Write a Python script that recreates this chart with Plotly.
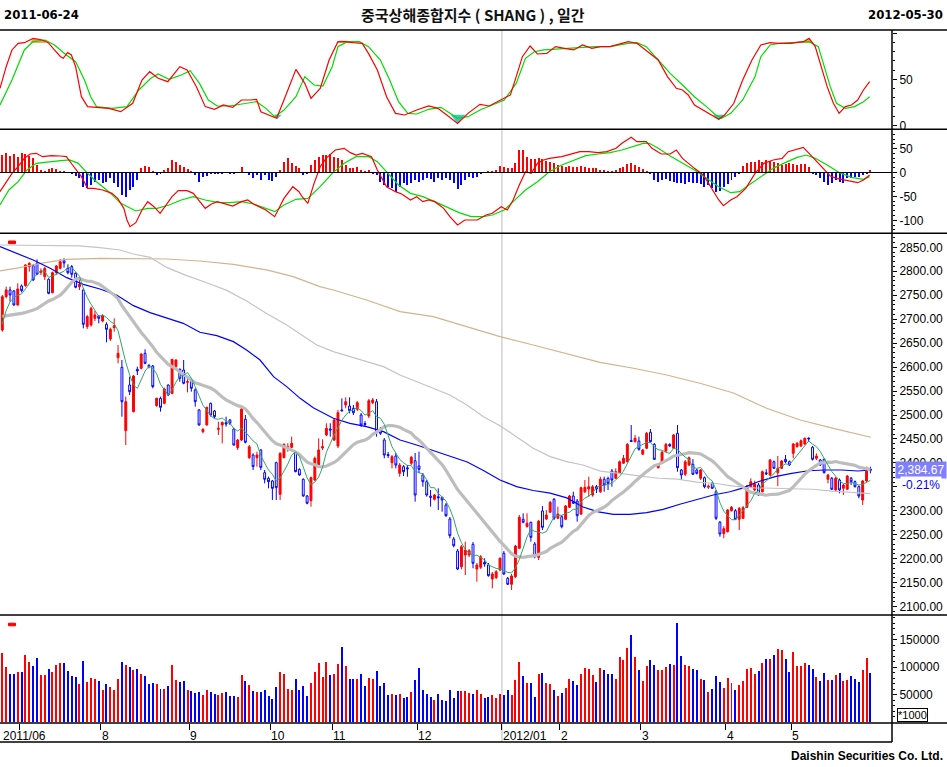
import plotly.graph_objects as go
import pandas as pd

# ---------------- data ----------------
month_days = [5, 21, 23, 21, 16, 22, 22, 15, 21, 22, 17, 21]
month_labels = ["2011/06", "8", "9", "10", "11", "12", "2012/01", "2", "3", "4", "5"]

opens = [
 2677.4, 2747.0, 2760.9, 2758.8, 2729.6, 2769.3, 2769.9, 2809.6, 2811.7, 2816.6,
 2797.8, 2788.7, 2783.2, 2755.3, 2797.1, 2806.1, 2822.1, 2806.1, 2809.6, 2795.7,
 2767.9, 2760.9, 2684.4, 2687.9, 2701.8, 2706.6, 2696.2, 2689.3, 2658.6, 2682.3,
 2619.7, 2599.5, 2467.3, 2562.6, 2507.0, 2595.3, 2597.4, 2628.7, 2603.7, 2602.3,
 2519.5, 2534.8, 2524.4, 2562.6, 2545.2, 2600.9, 2595.3, 2593.9, 2568.2, 2569.6,
 2552.2, 2510.5, 2465.2, 2479.2, 2524.4, 2508.4, 2470.1, 2479.2, 2484.0, 2489.6,
 2470.8, 2431.8, 2447.8, 2491.0, 2411.0, 2416.5, 2411.0, 2427.0, 2379.7, 2367.8,
 2362.3, 2400.5, 2334.5, 2411.0, 2430.5, 2432.5, 2422.1, 2386.6, 2365.8, 2330.9,
 2321.2, 2364.4, 2395.7, 2431.0, 2458.3, 2470.8, 2447.8, 2435.3, 2510.4, 2520.9,
 2518.8, 2514.0, 2511.9, 2500.0, 2482.2, 2497.9, 2525.7, 2527.7, 2470.2, 2447.8,
 2417.6, 2400.5, 2414.4, 2378.3, 2392.1, 2389.8, 2399.2, 2404.6, 2393.6, 2374.8,
 2360.8, 2330.5, 2324.1, 2329.5, 2328.2, 2312.2, 2283.0, 2241.2, 2216.1, 2183.4,
 2207.8, 2207.8, 2230.1, 2178.6, 2182.2, 2192.6, 2187.0, 2157.7, 2160.5, 2176.5,
 2211.3, 2159.2, 2146.7, 2162.6, 2221.8, 2282.3, 2266.9, 2276.2, 2230.8, 2203.0,
 2299.7, 2283.0, 2297.0, 2324.1, 2284.4, 2287.7, 2282.3, 2307.4, 2330.9, 2320.5,
 2293.4, 2339.9, 2345.6, 2333.0, 2350.3, 2339.9, 2365.8, 2367.9, 2383.1, 2367.9,
 2378.3, 2399.2, 2402.5, 2446.8, 2444.3, 2445.7, 2418.0, 2430.5, 2463.9, 2438.8,
 2390.0, 2399.2, 2424.9, 2438.8, 2430.5, 2461.8, 2385.2, 2376.2, 2395.6, 2397.1,
 2385.2, 2367.9, 2369.1, 2349.3, 2357.4, 2339.9, 2276.2, 2252.5, 2256.5, 2300.3,
 2300.3, 2282.3, 2284.4, 2307.4, 2350.3, 2343.5, 2353.9, 2339.9, 2379.4, 2374.8,
 2402.5, 2379.6, 2388.7, 2407.5, 2402.5, 2420.0, 2433.8, 2435.3, 2439.5, 2452.0,
 2432.6, 2409.6, 2406.1, 2407.5, 2365.8, 2367.9, 2343.5, 2364.3, 2347.0, 2345.0,
 2367.9, 2360.8, 2350.3, 2322.6, 2362.3, 2387.3]
highs = [
 2750.5, 2767.9, 2767.9, 2760.9, 2774.8, 2772.7, 2814.5, 2818.7, 2814.5, 2824.9,
 2806.1, 2809.6, 2785.3, 2799.2, 2813.1, 2825.6, 2827.0, 2814.5, 2813.1, 2797.8,
 2781.8, 2764.4, 2708.7, 2726.1, 2717.1, 2708.7, 2710.1, 2693.4, 2682.3, 2701.8,
 2646.1, 2614.8, 2538.3, 2580.0, 2583.5, 2600.9, 2628.7, 2637.1, 2605.8, 2604.4,
 2536.2, 2538.3, 2557.1, 2564.0, 2616.9, 2616.2, 2597.4, 2614.8, 2576.5, 2573.1,
 2555.7, 2512.5, 2472.2, 2517.4, 2525.8, 2510.5, 2486.1, 2486.1, 2496.5, 2491.7,
 2473.6, 2449.9, 2517.4, 2500.0, 2437.4, 2420.0, 2423.5, 2428.4, 2385.2, 2371.3,
 2364.4, 2402.6, 2422.1, 2440.9, 2440.9, 2454.8, 2424.9, 2388.7, 2367.8, 2333.1,
 2371.3, 2413.1, 2451.3, 2449.3, 2482.7, 2482.7, 2493.7, 2510.4, 2534.8, 2536.9,
 2536.9, 2520.9, 2529.2, 2504.2, 2487.5, 2533.4, 2535.5, 2533.4, 2475.0, 2452.0,
 2422.8, 2416.5, 2420.7, 2399.8, 2395.6, 2395.6, 2414.4, 2420.7, 2423.5, 2379.0,
 2364.3, 2343.5, 2335.1, 2347.0, 2329.5, 2316.4, 2287.1, 2245.4, 2220.3, 2228.7,
 2235.6, 2220.3, 2234.9, 2191.1, 2207.8, 2200.9, 2191.1, 2172.3, 2176.5, 2203.0,
 2216.1, 2161.9, 2168.2, 2228.7, 2291.3, 2294.8, 2294.8, 2277.3, 2234.9, 2281.0,
 2310.1, 2301.7, 2320.5, 2326.8, 2308.7, 2291.3, 2312.2, 2333.0, 2339.9, 2324.7,
 2350.3, 2364.3, 2371.3, 2353.9, 2353.9, 2371.3, 2371.3, 2371.3, 2387.3, 2388.7,
 2405.0, 2416.5, 2441.5, 2479.1, 2458.3, 2454.7, 2429.1, 2464.5, 2470.8, 2441.5,
 2399.8, 2424.9, 2441.5, 2440.9, 2460.4, 2479.1, 2387.3, 2406.1, 2413.4, 2408.2,
 2387.3, 2387.3, 2371.6, 2354.9, 2360.2, 2343.5, 2278.8, 2268.0, 2303.8, 2310.1,
 2303.8, 2308.0, 2310.1, 2353.9, 2367.9, 2362.9, 2358.1, 2384.2, 2386.7, 2408.2,
 2405.0, 2414.4, 2406.1, 2416.5, 2405.0, 2441.5, 2443.6, 2448.9, 2453.1, 2453.1,
 2435.3, 2420.1, 2408.2, 2409.2, 2376.9, 2370.6, 2370.6, 2367.5, 2356.0, 2374.8,
 2370.6, 2363.3, 2352.9, 2364.3, 2392.1, 2392.1]
lows = [
 2673.9, 2743.5, 2736.6, 2728.2, 2728.2, 2756.0, 2767.9, 2799.2, 2779.7, 2792.2,
 2792.2, 2781.8, 2751.9, 2753.9, 2793.6, 2804.0, 2807.5, 2793.6, 2786.6, 2764.4,
 2760.9, 2680.9, 2679.5, 2684.4, 2696.2, 2691.3, 2693.4, 2651.7, 2654.5, 2673.9,
 2607.9, 2496.5, 2437.4, 2541.8, 2505.6, 2583.5, 2595.3, 2605.8, 2597.4, 2555.7,
 2517.4, 2507.0, 2522.3, 2539.7, 2543.1, 2593.9, 2569.6, 2564.0, 2547.3, 2548.7,
 2517.4, 2477.8, 2461.8, 2477.8, 2496.5, 2493.1, 2458.3, 2440.9, 2475.7, 2479.2,
 2436.0, 2427.0, 2445.8, 2440.9, 2408.2, 2385.2, 2392.2, 2385.2, 2357.4, 2347.0,
 2322.6, 2322.6, 2322.6, 2409.6, 2423.5, 2430.5, 2380.4, 2373.4, 2329.6, 2313.6,
 2308.7, 2362.3, 2394.3, 2427.0, 2456.0, 2454.7, 2445.7, 2431.1, 2506.9, 2514.0,
 2503.5, 2500.0, 2508.3, 2475.0, 2475.0, 2493.7, 2523.0, 2454.7, 2458.3, 2409.6,
 2410.3, 2388.7, 2388.7, 2371.3, 2372.7, 2371.3, 2395.6, 2319.1, 2378.3, 2350.3,
 2329.5, 2308.7, 2321.6, 2301.7, 2298.2, 2287.1, 2242.7, 2223.9, 2176.5, 2178.0,
 2166.1, 2203.6, 2180.1, 2152.1, 2178.6, 2183.4, 2162.6, 2138.3, 2157.7, 2174.4,
 2166.1, 2145.2, 2134.8, 2159.8, 2220.3, 2274.0, 2265.3, 2235.6, 2200.9, 2197.4,
 2259.9, 2280.9, 2295.5, 2280.9, 2283.0, 2263.5, 2280.9, 2306.0, 2314.3, 2277.3,
 2291.3, 2337.2, 2329.5, 2329.5, 2337.2, 2337.2, 2339.9, 2343.5, 2350.3, 2366.4,
 2376.9, 2397.7, 2400.9, 2444.3, 2442.6, 2425.5, 2416.5, 2429.1, 2442.6, 2406.1,
 2388.3, 2397.7, 2422.8, 2433.8, 2429.1, 2381.7, 2364.3, 2372.7, 2393.6, 2374.8,
 2375.8, 2364.3, 2347.0, 2345.6, 2345.6, 2280.9, 2246.0, 2242.7, 2254.8, 2298.6,
 2280.9, 2260.0, 2283.0, 2306.0, 2348.7, 2341.4, 2330.9, 2338.2, 2374.8, 2372.7,
 2387.3, 2351.8, 2387.3, 2399.2, 2393.6, 2409.6, 2432.1, 2433.2, 2437.4, 2444.3,
 2405.0, 2406.1, 2393.6, 2377.9, 2357.4, 2343.5, 2341.4, 2336.6, 2333.0, 2343.5,
 2353.9, 2348.7, 2326.1, 2312.2, 2360.2, 2378.3]
closes = [
 2747.0, 2760.9, 2750.5, 2729.6, 2763.0, 2759.5, 2813.1, 2816.6, 2781.8, 2793.6,
 2800.6, 2806.1, 2753.9, 2797.1, 2811.0, 2820.0, 2817.3, 2797.1, 2793.6, 2766.5,
 2772.7, 2689.3, 2705.3, 2722.6, 2708.7, 2701.8, 2706.6, 2678.8, 2678.8, 2686.5,
 2628.7, 2527.8, 2527.8, 2548.7, 2581.4, 2591.9, 2627.3, 2607.9, 2600.9, 2559.2,
 2534.8, 2516.0, 2554.3, 2541.8, 2616.2, 2614.8, 2576.5, 2566.1, 2569.6, 2555.7,
 2527.8, 2479.2, 2470.1, 2516.0, 2500.0, 2496.5, 2472.2, 2484.7, 2481.2, 2482.6,
 2437.4, 2447.8, 2512.5, 2443.0, 2433.9, 2392.2, 2416.5, 2390.8, 2365.8, 2360.9,
 2347.0, 2348.4, 2420.0, 2438.8, 2433.9, 2440.9, 2381.8, 2374.8, 2330.9, 2315.7,
 2369.2, 2409.6, 2427.0, 2434.0, 2472.2, 2468.7, 2489.5, 2504.8, 2509.0, 2527.7,
 2509.0, 2504.8, 2525.7, 2479.1, 2480.2, 2529.8, 2531.3, 2463.1, 2461.8, 2416.5,
 2415.5, 2413.0, 2395.6, 2395.6, 2381.7, 2387.7, 2411.7, 2333.0, 2386.7, 2360.8,
 2333.0, 2328.4, 2333.0, 2327.4, 2322.6, 2289.9, 2248.1, 2227.2, 2178.6, 2225.1,
 2218.2, 2216.8, 2190.5, 2187.0, 2204.2, 2189.0, 2164.6, 2168.2, 2173.0, 2200.9,
 2168.2, 2146.7, 2164.0, 2226.6, 2286.5, 2276.2, 2274.0, 2244.7, 2204.2, 2278.4,
 2265.6, 2291.3, 2317.8, 2284.4, 2293.4, 2266.9, 2310.1, 2330.9, 2315.7, 2289.9,
 2348.2, 2349.0, 2350.3, 2350.3, 2345.6, 2365.8, 2353.9, 2357.4, 2364.3, 2381.7,
 2402.5, 2409.6, 2438.8, 2444.7, 2451.4, 2428.4, 2427.0, 2461.8, 2444.3, 2407.5,
 2397.1, 2422.2, 2438.8, 2435.3, 2458.3, 2390.0, 2374.8, 2402.5, 2410.9, 2376.2,
 2378.3, 2385.2, 2350.3, 2351.4, 2347.0, 2284.4, 2251.7, 2262.8, 2301.7, 2307.4,
 2282.3, 2305.3, 2306.5, 2351.8, 2360.8, 2356.0, 2333.0, 2381.7, 2377.3, 2406.1,
 2388.7, 2388.7, 2404.0, 2402.5, 2395.6, 2439.5, 2440.9, 2446.3, 2451.4, 2450.3,
 2407.5, 2414.4, 2395.6, 2379.6, 2374.8, 2345.0, 2367.9, 2343.5, 2353.9, 2372.7,
 2360.8, 2350.3, 2330.9, 2362.3, 2389.69, 2384.67]

volumes = [
 126400, 100300, 88200, 88200, 91200, 91200, 122700, 109400, 102100, 116700,
 86400, 86400, 97300, 91200, 104500, 107600, 107600, 93000, 83900, 82100,
 70000, 111200, 73000, 80300, 77900, 74800, 59100, 70000, 63900, 59100,
 79100, 109400, 104500, 100300, 95400, 97300, 88200, 83900, 70000, 71800,
 70000, 60900, 60900, 65800, 104500, 77300, 73000, 74800, 59100, 56700,
 53600, 54800, 50000, 59100, 54800, 51800, 50000, 53600, 54800, 47600,
 47600, 45800, 86400, 74800, 68200, 56700, 54800, 54800, 58500, 48200,
 42700, 63900, 91200, 88200, 60900, 59100, 79100, 59100, 65800, 48200,
 71800, 91200, 108200, 82100, 109400, 85100, 88200, 106400, 136700, 102100,
 79100, 79100, 79100, 88200, 65800, 80900, 79100, 93000, 65800, 71800,
 50000, 51800, 50000, 51800, 44500, 45800, 54800, 76700, 98500, 58500,
 51800, 45800, 39700, 51800, 40300, 38500, 58500, 43900, 56700, 56700,
 56700, 53000, 51800, 59100, 51800, 43900, 45800, 48800, 43900, 51800,
 48800, 58500, 49400, 76100, 109400, 83900, 71200, 71200, 45800, 87600,
 89400, 71200, 70000, 58500, 47600, 53000, 62100, 78500, 74800, 67600,
 88200, 98500, 96700, 86400, 73000, 98500, 94800, 87600, 87600, 78500,
 118500, 113000, 134800, 158500, 118500, 94800, 74800, 102100, 113000, 103900,
 94800, 94800, 100300, 105800, 103900, 180300, 120300, 103900, 102100, 96700,
 94800, 78500, 76700, 54800, 60300, 83900, 73000, 62100, 80300, 71200,
 58500, 67600, 74800, 96100, 98500, 87600, 93000, 107600, 114800, 114800,
 122100, 133000, 131200, 114800, 91200, 127600, 102100, 102100, 107600, 103900,
 96700, 82100, 74800, 89400, 76700, 76700, 85800, 89400, 74800, 76700,
 83900, 78500, 73000, 94800, 116700, 89400]

# moving-average start values (window not yet filled inside the visible range)
ma5_head = [2690, 2718, 2736, 2745]
ma20_head = [2706, 2707, 2708, 2709, 2710, 2712, 2714, 2716, 2719, 2722,
             2727, 2733, 2738, 2741, 2745, 2750, 2758, 2768, 2777]

# long moving averages: (bar index, value)
ma60_pts = [(-0.6, 2851.3), (8, 2823.5), (12.4, 2806.1), (16.7, 2786.6), (21, 2772.7),
            (25.3, 2763.0), (29.6, 2750.5), (34, 2728.2), (38.3, 2713.6), (42.6, 2701.8),
            (46.9, 2691.3), (51.2, 2672.6), (55.6, 2665.6), (59.9, 2653.1), (63.3, 2635.7),
            (66.8, 2614.8), (70.3, 2580.0), (73.7, 2559.2), (77.2, 2534.8), (80.6, 2515.0),
            (85.8, 2493.1), (90.1, 2482.6), (94.4, 2475.7), (98.8, 2465.2), (103.1, 2447.8),
            (107.4, 2437.4), (111.7, 2426.0), (116.0, 2414.0), (120.5, 2402.0), (124.7, 2384.0),
            (129.0, 2364.4), (133.3, 2350.5), (137.6, 2342.5), (142.0, 2337.0), (146.3, 2327.0),
            (150.5, 2308.0), (154.5, 2298.0), (158.4, 2292.8), (162.7, 2292.8), (167, 2296.1),
            (171.3, 2303.2), (175.6, 2313.7), (179.9, 2322.6), (184.3, 2333.0), (188.6, 2339.9),
            (191.6, 2347.0), (195.9, 2360.8), (200.3, 2371.3), (204.6, 2378.3), (208.9, 2383.7),
            (213.2, 2385.2), (217.5, 2385.2), (221.8, 2383.1), (225.1, 2385.2)]
ma120_pts = [(-0.6, 2854.8), (10, 2854.0), (20, 2853.0), (25.3, 2849.3), (30.5, 2844.4),
             (34, 2836.0), (38.3, 2829.1), (42.6, 2808.0), (47.8, 2790.8), (53, 2776.0),
             (58.2, 2760.0), (63.3, 2738.0), (68.5, 2712.0), (73.7, 2688.0), (78.9, 2660.0),
             (81.5, 2646.1), (85.8, 2632.2), (90.1, 2621.8), (94.4, 2611.4), (98.8, 2600.9),
             (103.1, 2583.5), (107.4, 2569.6), (111.7, 2555.7), (116.0, 2541.8), (120.4, 2520.9),
             (124.7, 2496.5), (129.0, 2477.8), (133.3, 2454.8), (137.6, 2430.5), (142.0, 2413.1),
             (146.3, 2402.6), (150.5, 2395.7), (155, 2383.0), (160, 2378.0), (165, 2373.0),
             (170, 2368.0), (175, 2366.0), (180, 2360.0), (185, 2357.0), (190, 2351.0),
             (195, 2348.0), (200, 2347.0), (205, 2347.0), (210, 2345.0), (215, 2341.0),
             (220, 2338.0), (225, 2336.0)]
ma240_pts = [(-0.6, 2800.6), (4.6, 2807.5), (9.8, 2816.6), (16.7, 2824.9), (25.3, 2827.0),
             (34, 2827.0), (42.6, 2825.6), (51.2, 2821.4), (59.9, 2814.5), (68.5, 2802.7),
             (75.4, 2788.7), (82.3, 2768.0), (85.8, 2760.9), (94.4, 2740.0), (103.1, 2715.7),
             (111.7, 2705.3), (120.4, 2684.4), (129.0, 2663.5), (137.6, 2646.1), (146.3, 2628.7),
             (154.9, 2610.0), (163.6, 2597.6), (172.2, 2583.5), (180.8, 2566.3), (189.5, 2546.0),
             (198.1, 2514.0), (206.8, 2489.6), (215.4, 2472.2), (224.0, 2454.7), (225.1, 2453.5)]

# stochastic %K (red) and %D (green): (bar index, value)
stoch_k = [(-0.6, 40.2), (1.0, 63.7), (2.5, 81.9), (4.1, 89.1), (5.7, 89.8), (8.0, 94.5), (10.4, 92.7),
           (11.9, 89.8), (13.5, 81.9), (15.1, 74.6), (15.8, 72.8), (16.9, 79.0), (17.9, 76.4), (19.0, 63.7),
           (20.5, 31.1), (22.1, 20.3), (24.4, 19.5), (27.6, 18.4), (30.7, 14.8), (33.8, 23.9), (36.2, 49.2),
           (38.2, 58.3), (40.4, 51.1), (42.9, 47.4), (46.0, 63.7), (47.9, 60.1), (50.3, 42.0), (52.6, 20.3),
           (55.0, 17.4), (57.3, 22.1), (59.7, 19.5), (62.0, 27.5), (64.4, 27.5), (65.9, 28.2), (67.0, 14.8),
           (69.1, 11.2), (71.1, 7.6), (73.0, 27.5), (76.1, 60.8), (78.4, 45.6), (80.0, 29.3), (82.4, 40.2),
           (84.7, 71.0), (87.0, 90.9), (88.6, 90.9), (91.0, 89.8), (93.3, 89.1), (94.9, 78.2), (97.2, 60.1),
           (99.6, 31.1), (101.9, 13.0), (104.3, 11.2), (107.4, 16.6), (110.5, 21.0), (112.9, 18.4),
           (115.2, 11.2), (118.0, 2.1), (120.7, 13.0), (123.8, 22.8), (126.2, 21.0), (129.3, 27.5),
           (131.7, 33.0), (133.2, 52.9), (134.8, 74.6), (136.8, 86.2), (138.7, 77.5), (141.1, 78.2),
           (143.4, 85.5), (145.7, 83.7), (148.1, 81.9), (150.4, 87.3), (152.8, 83.7), (155.1, 85.5),
           (157.5, 85.5), (160.6, 89.1), (162.2, 90.9), (164.5, 89.1), (167.7, 78.2), (170.0, 71.0),
           (172.4, 52.9), (174.7, 40.2), (176.3, 38.4), (177.8, 33.0), (179.4, 22.1), (181.7, 16.6),
           (184.1, 11.2), (185.7, 6.5), (187.2, 11.2), (189.6, 23.9), (191.9, 49.2), (194.3, 71.0),
           (196.6, 87.3), (199.0, 89.8), (201.3, 89.1), (204.4, 89.1), (207.6, 90.9), (209.1, 94.5),
           (210.7, 85.5), (212.3, 63.7), (213.8, 42.0), (215.4, 23.9), (216.9, 13.0), (218.5, 20.3),
           (220.1, 22.1), (221.7, 27.5), (223.2, 38.4), (224.8, 47.4)]
stoch_d = [(-0.6, 22.1), (2.5, 49.2), (5.7, 81.9), (8.0, 90.9), (11.1, 92.7), (13.5, 87.3), (16.6, 76.4),
           (19.0, 69.2), (21.3, 49.2), (22.9, 31.1), (24.4, 20.3), (28.4, 18.4), (32.3, 20.3), (35.4, 38.4),
           (38.5, 51.1), (40.4, 55.8), (43.2, 50.0), (46.4, 54.7), (48.7, 59.4), (51.1, 45.6), (53.4, 27.5),
           (55.7, 21.0), (58.9, 21.0), (62.0, 23.2), (65.9, 25.7), (68.3, 18.4), (70.6, 9.4), (73.0, 16.6),
           (76.1, 31.1), (78.4, 52.9), (80.8, 43.8), (83.1, 42.7), (85.5, 63.7), (87.0, 85.5), (89.4, 90.9),
           (92.5, 90.9), (94.9, 85.5), (98.0, 71.0), (100.4, 49.2), (102.7, 25.7), (105.1, 13.0),
           (107.4, 12.3), (110.5, 17.4), (113.7, 19.5), (116.8, 11.2), (118.0, 7.6), (120.7, 9.4),
           (123.8, 16.6), (127.0, 22.1), (130.1, 27.5), (133.2, 45.6), (135.6, 72.8), (137.9, 80.0),
           (140.3, 81.9), (146.5, 83.7), (153.6, 85.5), (157.5, 85.5), (162.2, 89.1), (164.5, 89.8),
           (166.9, 85.5), (170.0, 71.0), (173.1, 56.5), (176.3, 43.8), (179.4, 31.1), (182.5, 20.3),
           (184.9, 11.2), (186.4, 7.6), (188.8, 13.0), (191.9, 27.5), (195.1, 52.9), (196.6, 74.6),
           (199.0, 87.3), (201.3, 89.1), (206.0, 89.8), (209.1, 90.9), (211.5, 85.5), (213.1, 63.7),
           (214.6, 42.0), (216.2, 23.9), (218.5, 18.4), (220.9, 20.3), (223.2, 25.7), (224.8, 31.1)]
over_patches = [[(7.2, 89.5), (8.0, 94.5), (9.5, 93.8), (11.0, 91.5), (11.3, 89.5)],
                [(86.5, 89.5), (87.5, 92.0), (89.5, 92.0), (90.8, 89.5)],
                [(203.5, 89.5), (206.0, 90.5), (208.0, 91.5), (209.1, 94.5), (210.0, 91.0), (210.3, 89.5)]]
under_patches = [[(70.4, 11.5), (72.4, 11.5), (71.3, 6.5)],
                 [(116.2, 11.5), (120.0, 11.5), (118.0, 2.0)],
                 [(184.2, 11.5), (187.2, 11.5), (185.7, 5.5)]]

# MACD line (red), signal (green): (bar index, value); oscillator bars per bar
macd_line = [(-0.6, -40.1), (1.0, -19.2), (2.5, -1.7), (4.1, 12.2), (5.7, 29.6), (7.2, 38.7), (8.8, 40.1),
             (10.4, 33.1), (12.7, 35.2), (15.1, 34.5), (16.6, 33.1), (18.2, 15.7), (20.5, -8.7), (22.1, -33.1),
             (23.7, -33.1), (26.0, -36.6), (28.4, -43.6), (29.9, -54.1), (31.5, -75.0), (32.3, -99.4),
             (33.1, -113.3), (34.6, -105.0), (36.2, -78.5), (37.7, -61.0), (39.3, -71.5), (40.9, -85.4),
             (42.4, -68.0), (44.0, -50.6), (45.6, -38.0), (47.9, -38.0), (49.5, -43.6), (51.1, -61.0),
             (52.6, -75.0), (54.2, -65.9), (55.7, -61.0), (57.3, -64.5), (59.7, -70.1), (62.0, -61.0),
             (63.6, -57.5), (65.1, -65.9), (68.3, -78.5), (70.6, -92.4), (73.0, -54.1), (75.3, -29.7),
             (76.9, -40.1), (77.7, -50.6), (79.2, -64.5), (80.8, -22.7), (82.4, 12.2), (83.9, 29.6),
             (86.3, 47.1), (88.6, 50.6), (90.2, 41.5), (91.7, 36.6), (93.3, 40.1), (95.7, 33.1), (97.2, 5.2),
             (99.6, -29.7), (101.9, -40.1), (103.5, -45.0), (105.8, -57.5), (107.4, -50.6), (109.0, -61.0),
             (110.5, -57.5), (112.1, -61.0), (114.4, -75.0), (116.0, -92.4), (118.0, -109.9), (119.9, -99.4),
             (123.1, -99.4), (125.4, -88.9), (127.0, -85.4), (129.3, -71.5), (130.9, -78.5), (132.4, -57.5),
             (134.0, -26.2), (135.6, 1.7), (137.1, -1.7), (138.7, 19.2), (140.3, 26.2), (141.8, 29.6),
             (145.0, 33.1), (148.1, 40.1), (149.7, 43.6), (152.0, 43.6), (154.4, 41.5), (156.7, 43.6),
             (159.1, 50.6), (160.6, 61.0), (163.0, 73.6), (164.5, 64.5), (166.9, 64.5), (168.4, 50.6),
             (170.8, 38.7), (173.1, 38.7), (174.7, 47.1), (176.3, 29.6), (177.8, 19.2), (179.4, 8.7),
             (181.7, -5.2), (184.1, -36.6), (185.7, -57.5), (186.9, -69.4), (188.8, -57.5), (190.4, -50.6),
             (192.7, -33.1), (195.1, -1.7), (197.4, 19.2), (199.8, 26.2), (202.1, 29.6), (203.7, 43.6),
             (206.0, 49.2), (207.6, 52.6), (209.9, 33.1), (212.3, 12.2), (214.6, -7.3), (216.2, -12.2),
             (218.5, -15.7), (220.1, -19.2), (221.7, -21.3), (223.2, -15.7), (224.8, -5.2)]
macd_signal = [(-0.6, -68.0), (1.7, -36.6), (4.1, -19.2), (6.4, 5.2), (8.8, 19.2), (11.9, 22.7), (15.1, 24.8),
               (17.4, 26.2), (19.7, 19.2), (22.1, -1.7), (24.4, -19.2), (27.6, -40.1), (30.7, -64.5),
               (34.6, -80.5), (37.7, -75.0), (40.1, -75.0), (43.2, -68.0), (46.4, -57.5), (49.5, -50.6),
               (52.6, -57.5), (55.7, -62.4), (58.9, -63.1), (62.0, -61.0), (65.1, -65.9), (68.3, -75.0),
               (70.6, -81.9), (73.0, -68.0), (76.1, -56.1), (79.2, -54.1), (82.4, -29.7), (85.5, -1.7),
               (88.6, 19.2), (91.7, 33.1), (94.9, 33.1), (97.2, 22.7), (99.6, 1.7), (102.7, -26.2),
               (105.8, -43.6), (109.0, -50.6), (112.1, -61.0), (115.2, -71.5), (118.4, -84.0), (121.5, -92.4),
               (124.6, -92.4), (127.0, -88.9), (130.1, -78.5), (132.4, -61.0), (135.6, -36.6), (138.7, -19.2),
               (141.8, 1.7), (145.0, 15.7), (148.1, 26.2), (151.2, 35.2), (154.4, 38.7), (157.5, 41.5),
               (160.6, 47.1), (163.7, 55.4), (166.1, 61.0), (167.7, 61.0), (170.0, 50.6), (173.1, 34.5),
               (176.3, 19.2), (179.4, 5.2), (182.5, -12.2), (185.7, -29.7), (188.8, -42.2), (191.1, -40.1),
               (193.5, -26.2), (196.6, -8.7), (199.8, 8.7), (202.9, 20.6), (206.0, 31.7), (208.4, 36.6),
               (210.7, 29.6), (213.8, 15.7), (217.0, -0.3), (220.1, -10.1), (223.2, -14.3), (224.8, -8.7)]
macd_osc = [
 36.3, 41.1, 34.2, 38.4, 32.8, 39.8, 38.4, 34.2, 29.3, 15.3,
 4.9, 3.5, 6.3, 8.4, 6.3, 3.5, 1.4, -0.7, -3.5, -7.7,
 -12.6, -30.0, -33.5, -26.5, -19.5, -16.0, -21.6, -19.5, -12.6, -23.0,
 -30.0, -47.4, -50.9, -37.0, -30.0, -16.0, 8.4, 13.3, 11.9, 1.4,
 -5.6, -3.5, 4.9, 8.4, 25.8, 22.3, 15.3, 11.9, 6.3, 3.5,
 -5.6, -19.5, -9.1, -7.7, -3.5, -2.1, -2.1, -3.5, -0.7, -2.1,
 -3.5, -0.7, 10.5, -0.7, -5.6, -12.6, -5.6, -16.0, -5.6, -16.0,
 -17.4, -9.1, 4.9, 22.3, 29.3, 18.8, 13.3, 8.4, -5.6, -2.1,
 15.3, 25.8, 32.8, 36.3, 36.3, 38.4, 32.8, 29.3, 25.8, 15.3,
 8.4, 8.4, 11.9, 4.9, 3.5, 4.9, -2.1, -5.6, -19.5, -26.5,
 -30.0, -33.5, -40.4, -30.0, -23.0, -26.5, -23.0, -16.0, -19.5, -16.0,
 -12.6, -14.6, -19.5, -12.6, -16.0, -12.6, -16.0, -21.6, -35.6, -26.5,
 -16.0, -9.1, -12.6, -9.1, -2.1, -0.5, 1.4, 3.5, 4.9, 13.3,
 11.9, 8.4, 8.4, 18.8, 46.7, 46.7, 32.8, 27.2, 27.2, 29.3,
 27.2, 24.4, 22.3, 18.8, 15.3, 13.3, 11.9, 13.9, 11.9, 11.9,
 13.3, 11.9, 8.4, 8.4, 8.4, 4.9, 4.9, 3.5, 3.5, 4.9,
 8.4, 11.9, 17.4, 18.8, 15.3, 11.9, 6.3, 3.5, -2.1, -16.0,
 -19.5, -16.0, -14.6, -17.4, -19.5, -23.0, -21.6, -24.4, -19.5, -23.0,
 -21.6, -24.4, -30.0, -26.5, -33.5, -40.4, -38.4, -30.0, -24.4, -16.0,
 -9.1, -3.5, 13.3, 20.2, 22.3, 22.3, 25.8, 22.3, 25.8, 24.4,
 22.3, 18.8, 15.3, 17.4, 18.8, 17.4, 15.3, 17.4, 17.4, 11.9,
 -2.1, -5.6, -12.6, -19.5, -26.5, -23.0, -16.0, -19.5, -23.0, -12.6,
 -12.6, -9.1, -9.1, -5.6, -2.1, 4.9]

# ---------------- derived series ----------------
n = len(closes)
idx = list(range(n))
cs = pd.Series(closes)
ma5 = cs.rolling(5).mean().tolist()
ma20 = cs.rolling(20).mean().tolist()
for k, v in enumerate(ma5_head):
    ma5[k] = v
for k, v in enumerate(ma20_head):
    ma20[k] = v
up = [c >= o for o, c in zip(opens, closes)]
vol_colors = ['#FF0000' if u else '#0000FF' for u in up]
osc_colors = ['#FF0000' if v >= 0 else '#0000FF' for v in macd_osc]
bounds = []
acc = 0
for d in month_days[:-1]:
    acc += d
    bounds.append(acc - 0.5)
chg = (closes[-1] / closes[-2] - 1) * 100

# ---------------- geometry helpers (pixels -> paper) ----------------
W, H = 947, 767
PL, PR, PT, PB = 0, 892, 30, 723
def px(x):
    return (x - PL) / (PR - PL)
def py(y):
    return (PB - y) / (PB - PT)

Y_STO, Y_MACD, Y_PRICE, Y_VOL, Y_DATE = 129.3, 233.3, 615.0, 723.0, 742.0
FONT = "Liberation Sans, Arial, sans-serif"
P_TOP = 2850 + (247.3 - Y_MACD) * 2.087
P_BOT = 2850 - (Y_PRICE - 247.3) * 2.087
def price_y(p):
    return 247.3 + (2850 - p) / 2.087

CHG_Y = 484.5
# price tick labels; the one hidden under the change readout is left blank (as in the reference)
price_ticks = list(range(2100, 2851, 50))
price_text = ['' if abs(price_y(p) - CHG_Y) < 8 else f'{p:.2f}' for p in price_ticks]

fig = go.Figure()

def xy(pts):
    return [p[0] for p in pts], [p[1] for p in pts]

# stochastic panel
for poly in over_patches:
    xs, ys = xy(poly)
    fig.add_trace(go.Scatter(x=xs, y=ys, mode='lines', fill='toself', fillcolor='#F4A55C',
                             line=dict(width=0), yaxis='y', hoverinfo='skip', showlegend=False))
for poly in under_patches:
    xs, ys = xy(poly)
    fig.add_trace(go.Scatter(x=xs, y=ys, mode='lines', fill='toself', fillcolor='#3CC8C8',
                             line=dict(width=0), yaxis='y', hoverinfo='skip', showlegend=False))
xs, ys = xy(stoch_d)
fig.add_trace(go.Scatter(x=xs, y=ys, mode='lines', line=dict(color='#00DD00', width=1.2), yaxis='y',
                         hoverinfo='skip', showlegend=False))
xs, ys = xy(stoch_k)
fig.add_trace(go.Scatter(x=xs, y=ys, mode='lines', line=dict(color='#FF0000', width=1.2), yaxis='y',
                         hoverinfo='skip', showlegend=False))

# MACD panel
fig.add_trace(go.Bar(x=idx, y=macd_osc, width=0.26, marker=dict(color=osc_colors, line=dict(width=0)),
                     yaxis='y2', hoverinfo='skip', showlegend=False))
xs, ys = xy(macd_signal)
fig.add_trace(go.Scatter(x=xs, y=ys, mode='lines', line=dict(color='#00DD00', width=1.2), yaxis='y2',
                         hoverinfo='skip', showlegend=False))
xs, ys = xy(macd_line)
fig.add_trace(go.Scatter(x=xs, y=ys, mode='lines', line=dict(color='#FF0000', width=1.2), yaxis='y2',
                         hoverinfo='skip', showlegend=False))

# price panel
for pts, col, wd in [(ma240_pts, '#D2B48C', 1.2), (ma120_pts, '#C4C4C4', 1.2), (ma60_pts, '#0000FF', 1.2)]:
    xs, ys = xy(pts)
    fig.add_trace(go.Scatter(x=xs, y=ys, mode='lines', line=dict(color=col, width=wd), yaxis='y3',
                             hoverinfo='skip', showlegend=False))
fig.add_trace(go.Scatter(x=idx, y=ma20, mode='lines', line=dict(color='#BDBDBD', width=3.2), yaxis='y3',
                         hoverinfo='skip', showlegend=False))
fig.add_trace(go.Scatter(x=idx, y=ma5, mode='lines', line=dict(color='#2FA86A', width=1), yaxis='y3',
                         hoverinfo='skip', showlegend=False))
fig.add_trace(go.Candlestick(x=idx, open=opens, high=highs, low=lows, close=closes, yaxis='y3',
                             increasing=dict(line=dict(color='#FF0000', width=1), fillcolor='#FF0000'),
                             decreasing=dict(line=dict(color='#0000FF', width=1), fillcolor='#FFFFFF'),
                             whiskerwidth=0, hoverinfo='skip', showlegend=False))

# volume panel
fig.add_trace(go.Bar(x=idx, y=volumes, width=0.26, marker=dict(color=vol_colors, line=dict(width=0)),
                     yaxis='y4', hoverinfo='skip', showlegend=False))

axis_common = dict(side='right', anchor='x', showgrid=False, zeroline=False, showline=False,
                   ticks='outside', ticklen=4, tickcolor='black', tickwidth=1,
                   tickfont=dict(family=FONT, size=12, color='black'), fixedrange=True)

fig.update_layout(
    width=W, height=H, autosize=False,
    margin=dict(l=PL, r=W - PR, t=PT, b=H - PB, pad=0),
    paper_bgcolor='white', plot_bgcolor='white',
    showlegend=False, bargap=0, barmode='overlay',
    xaxis=dict(domain=[0, 1], range=[-0.6, 230.6], anchor='y4', showgrid=False, zeroline=False,
               showline=False, tickmode='array', tickvals=bounds, ticks='outside', ticklen=6,
               tickcolor='black', showticklabels=False, rangeslider=dict(visible=False), fixedrange=True),
    yaxis=dict(domain=[py(Y_STO), 1.0], range=[(125.3 - Y_STO) / 0.92, (125.3 - PT) / 0.92],
               tickmode='array', tickvals=[0, 50, 100], ticktext=['0', '50', ''],
               minor=dict(tickmode='array', tickvals=[10, 20, 30, 40, 60, 70, 80, 90], ticks='outside',
                          ticklen=2, tickcolor='black'), **axis_common),
    yaxis2=dict(domain=[py(Y_MACD), py(Y_STO)],
                range=[(172.5 - Y_MACD) / 0.478, (172.5 - Y_STO) / 0.478],
                tickmode='array', tickvals=[-100, -50, 0, 50], ticktext=['-100', '-50', '0', '50'],
                minor=dict(tickmode='array', tickvals=[v for v in range(-120, 91, 10) if v % 50],
                           ticks='outside', ticklen=2, tickcolor='black'), **axis_common),
    yaxis3=dict(domain=[py(Y_PRICE), py(Y_MACD)], range=[P_BOT, P_TOP],
                tickmode='array', tickvals=price_ticks, ticktext=price_text,
                minor=dict(tickmode='array', tickvals=[v for v in range(2090, 2880, 10) if v % 50],
                           ticks='outside', ticklen=2, tickcolor='black'), **axis_common),
    yaxis4=dict(domain=[0, py(Y_PRICE)],
                range=[-1450, (722.2 - Y_PRICE) / 27.5 * 50000],
                tickmode='array', tickvals=[50000, 100000, 150000], ticktext=['50000', '100000', '150000'],
                minor=dict(tickmode='array', tickvals=[v for v in range(10000, 200000, 10000) if v % 50000],
                           ticks='outside', ticklen=2, tickcolor='black'), **axis_common),
)

shapes = []
xr = W / (PR - PL)
for yy, x1 in [(PT, xr), (Y_STO, xr), (Y_MACD, xr), (Y_PRICE, xr), (Y_VOL, xr), (Y_DATE, 1.0)]:
    shapes.append(dict(type='line', xref='paper', yref='paper', x0=0, x1=x1, y0=py(yy), y1=py(yy),
                       line=dict(color='black', width=1.5)))
shapes.append(dict(type='line', xref='paper', yref='paper', x0=1.0, x1=1.0, y0=py(Y_DATE), y1=py(PT),
                   line=dict(color='black', width=1.5)))
# year boundary marker
shapes.append(dict(type='line', xref='x', yref='paper', x0=bounds[6], x1=bounds[6], y0=py(Y_DATE), y1=py(PT),
                   line=dict(color='#BBBBBB', width=1), layer='below'))
# MACD zero line
shapes.append(dict(type='line', xref='paper', yref='y2', x0=0, x1=1, y0=0, y1=0,
                   line=dict(color='black', width=1)))
# small red markers
for yc in (242.3, 624.5):
    shapes.append(dict(type='rect', xref='paper', yref='paper', x0=px(8.5), x1=px(15.5),
                       y0=py(yc + 1.3), y1=py(yc - 1.3), line=dict(color='#FF0000', width=1),
                       fillcolor='#FF0000'))
fig.update_layout(shapes=shapes)

ann = []
DATE_FONT = dict(family='Liberation Sans Narrow, DejaVu Sans Condensed, Liberation Sans', size=13, color='black')
ann.append(dict(text='<b>2011-06-24</b>', x=px(2), y=py(15), xref='paper', yref='paper', xanchor='left',
                yanchor='middle', showarrow=False, font=DATE_FONT))
ann.append(dict(text='<b>2012-05-30</b>', x=px(945), y=py(15), xref='paper', yref='paper', xanchor='right',
                yanchor='middle', showarrow=False, font=DATE_FONT))
ann.append(dict(text='<b>중국상해종합지수 ( SHANG ) , 일간</b>', x=px(473), y=py(15), xref='paper', yref='paper',
                xanchor='center', yanchor='middle', showarrow=False,
                font=dict(family='Noto Sans CJK KR', size=15, color='#111111')))
for k, (b, lab) in enumerate(zip(bounds, month_labels)):
    if k == 0:
        ann.append(dict(text=lab, x=px(1), y=py(736), xref='paper', yref='paper', xanchor='left',
                        yanchor='middle', showarrow=False, font=dict(family=FONT, size=12, color='black')))
    else:
        ann.append(dict(text=lab, x=b, y=py(736), xref='x', yref='paper', xanchor='left', xshift=-1,
                        yanchor='middle', showarrow=False, font=dict(family=FONT, size=12, color='black')))
ann.append(dict(text=f'{closes[-1]:,.2f}', x=px(921), y=py(470), xref='paper', yref='paper',
                xanchor='center', yanchor='middle', showarrow=False, bgcolor='#7F7FFF', borderpad=1,
                width=48, font=dict(family=FONT, size=12, color='white')))
ann.append(dict(text=f'{chg:.2f}%', x=px(921), y=py(CHG_Y), xref='paper', yref='paper',
                xanchor='center', yanchor='middle', showarrow=False, bgcolor='white',
                font=dict(family=FONT, size=12, color='#0000FF')))
ann.append(dict(text='*1000', x=px(912.5), y=py(714.5), xref='paper', yref='paper', xanchor='center',
                yanchor='middle', showarrow=False, bgcolor='white', bordercolor='black', borderwidth=1,
                borderpad=0, font=dict(family=FONT, size=11, color='black')))
ann.append(dict(text='<b>Daishin Securities Co. Ltd.</b>', x=px(945), y=py(756), xref='paper', yref='paper',
                xanchor='right', yanchor='middle', showarrow=False,
                font=dict(family=FONT, size=12, color='black')))
fig.update_layout(annotations=ann)

fig.write_html("out.html", config={'displayModeBar': False},
               post_script="document.body.style.margin='0';")
